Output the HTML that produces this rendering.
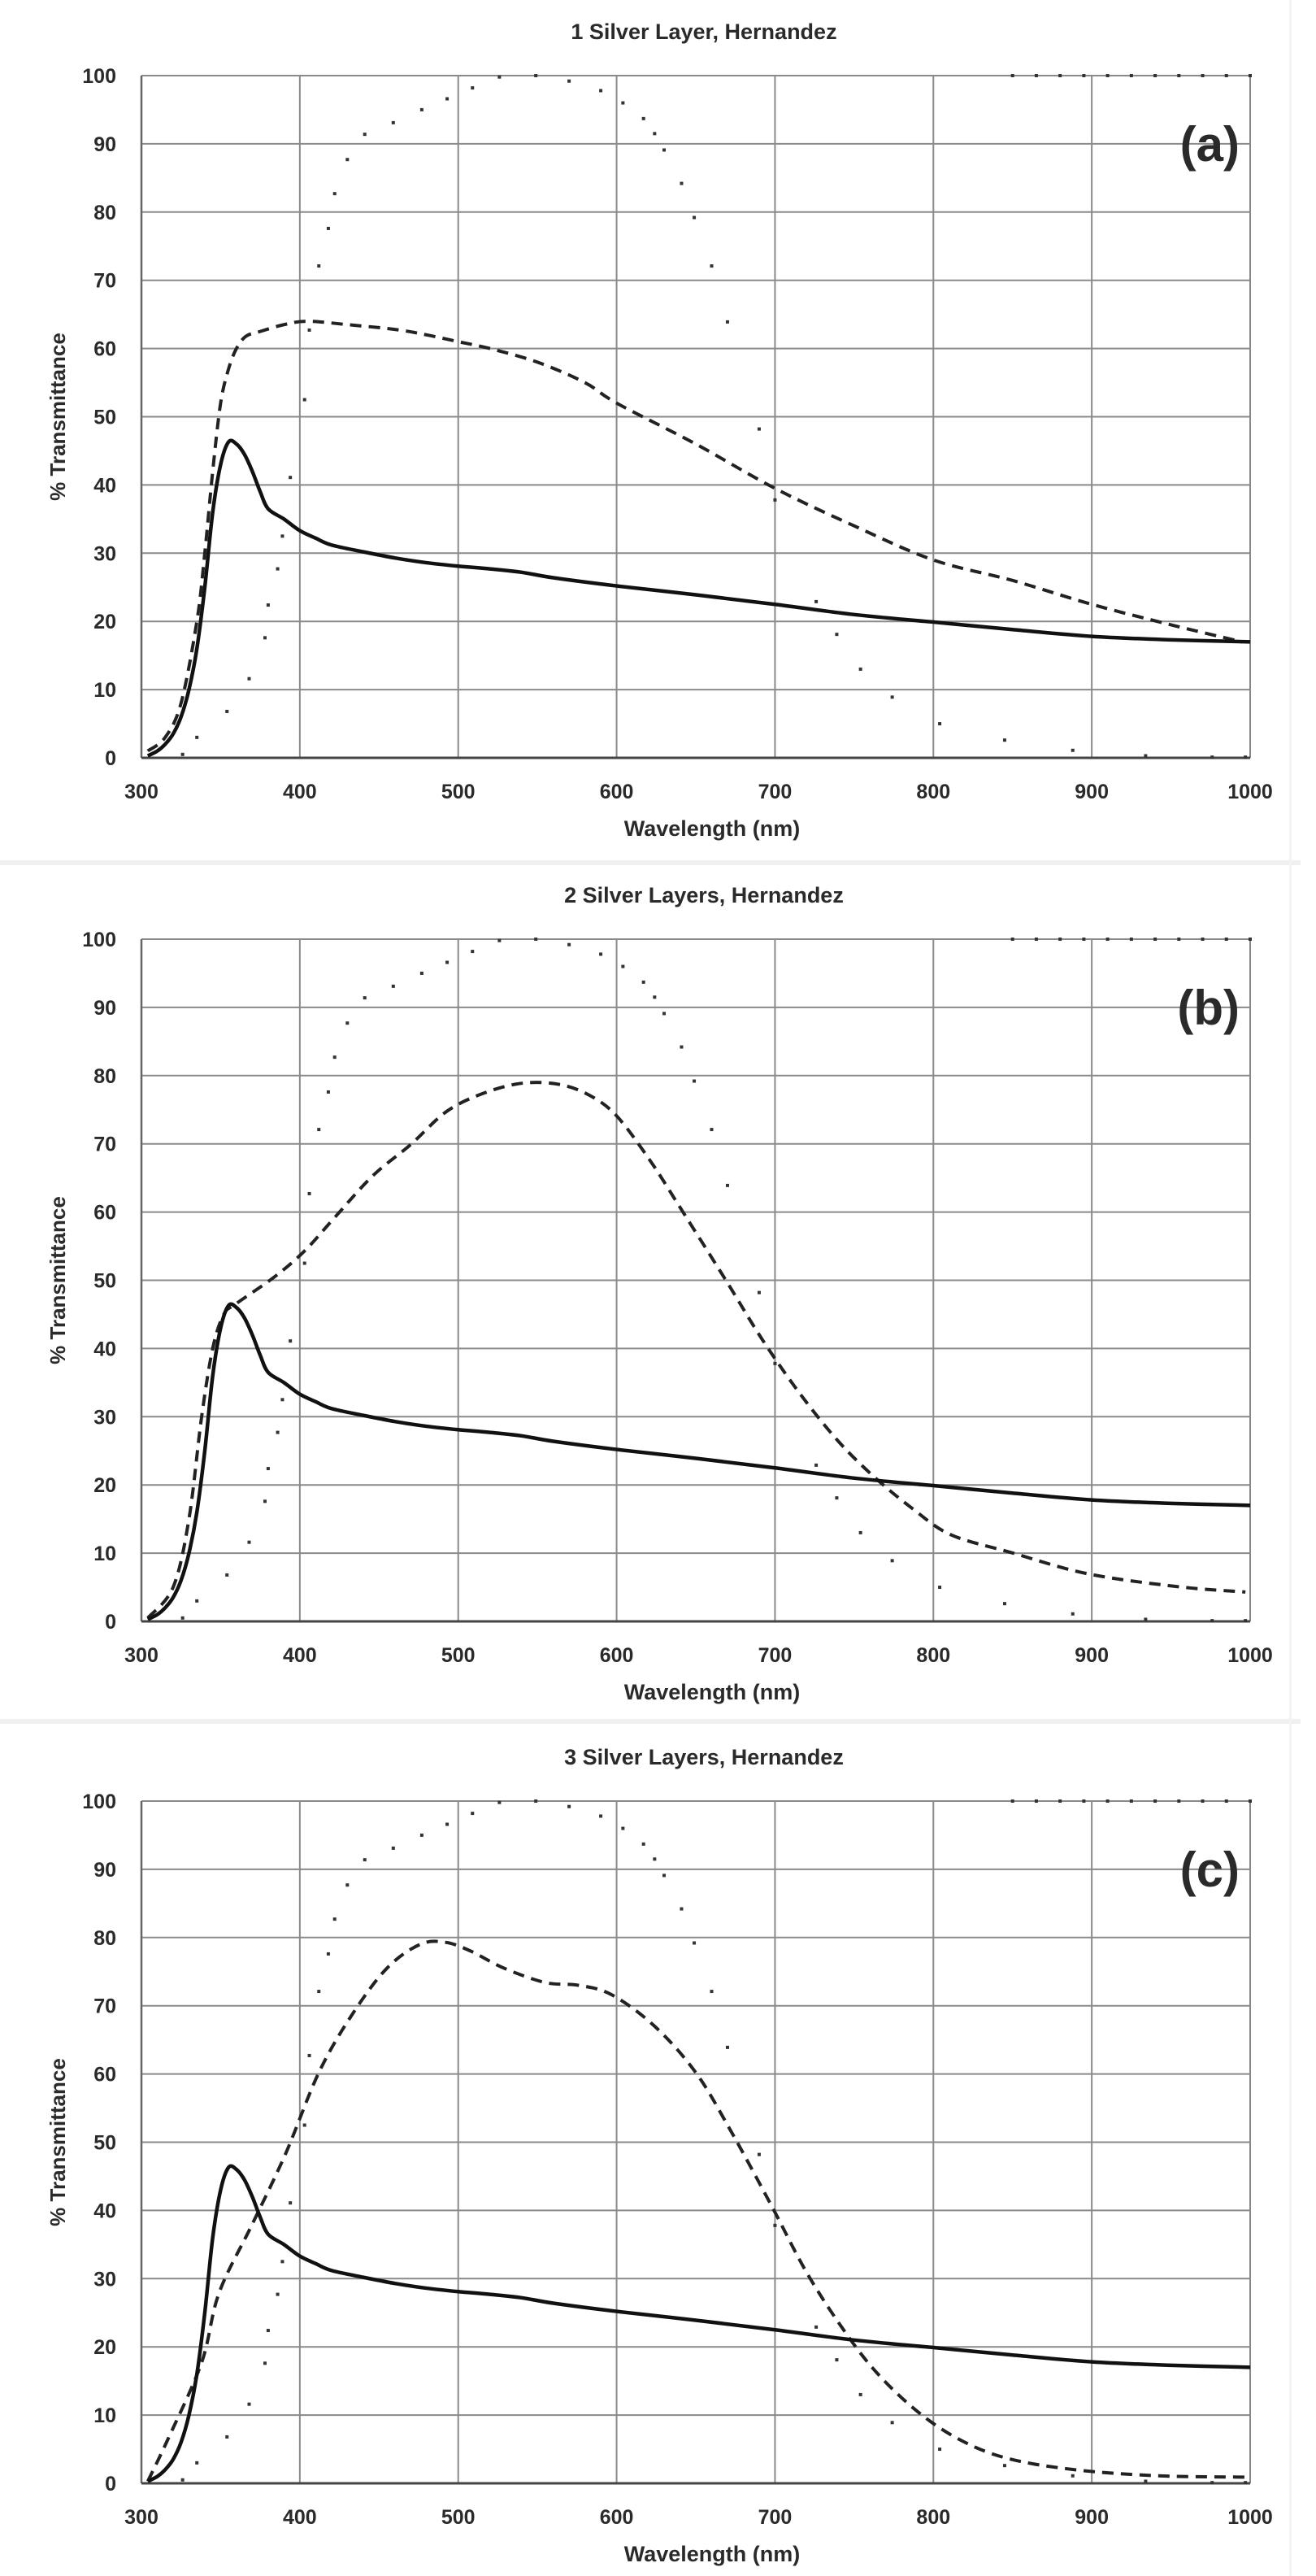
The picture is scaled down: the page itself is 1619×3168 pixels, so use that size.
<!DOCTYPE html>
<html><head><meta charset="utf-8"><style>
html,body{margin:0;padding:0;background:#fff}
svg{display:block}
text{font-family:"Liberation Sans",sans-serif;fill:#2a2a2a}
</style></head><body>
<svg id="s" width="1619" height="3168" viewBox="0 0 1619 3168" xmlns="http://www.w3.org/2000/svg">
<rect width="1619" height="3168" fill="#fff"/>
<rect x="0" y="1058" width="1600" height="6" fill="#f0f0f0"/>
<rect x="0" y="2114" width="1600" height="6" fill="#f0f0f0"/>
<rect x="1586" y="0" width="3" height="3168" fill="#f3f3f3"/>
</svg>
<script>
const NS="http://www.w3.org/2000/svg",S=document.getElementById('s');
function el(t,a,txt){const e=document.createElementNS(NS,t);for(const k in a)e.setAttribute(k,a[k]);if(txt!==undefined)e.textContent=txt;S.appendChild(e);return e;}
const X0=174,X1=1538,H=839;
const dots=[[326,0.5],[335,3],[354,6.8],[368,11.6],[378,17.6],[380,22.4],[386,27.7],[389,32.5],[394,41.1],[403,52.5],[406,62.7],[412,72.1],[418,77.6],[422,82.7],[430,87.7],[441,91.4],[459,93.1],[477,95],[493,96.6],[509,98.2],[526,99.8],[549,100],[570,99.2],[590,97.8],[604,96],[617,93.7],[624,91.5],[630,89.1],[641,84.2],[649,79.2],[660,72.1],[670,63.9],[690,48.2],[700,37.8],[726,22.9],[739,18.1],[754,13],[774,8.9],[804,5],[845,2.6],[888,1.1],[934,0.3],[976,0.1],[997,0.1],[850,100],[865,100],[880,100],[895,100],[910,100],[925,100],[940,100],[955,100],[970,100],[985,100],[1000,100]];
const solid=[[304,0.3],[310,1],[315,2],[320,3.5],[325,6],[330,10],[335,16],[340,25],[345,36],[350,43],[355,46.3],[360,46],[365,44.5],[370,42],[375,39],[380,36.5],[390,35],[400,33.3],[410,32.2],[420,31.2],[440,30.2],[460,29.3],[480,28.6],[500,28.1],[520,27.7],[540,27.2],[560,26.4],[600,25.2],[650,23.9],[700,22.5],[750,21],[800,19.9],[850,18.8],[900,17.8],[950,17.3],[1000,17]];
const dA=[[304,1],[315,3],[325,8],[335,20],[340,30],[345,42],[350,52],[355,57],[360,60],[366,61.8],[375,62.5],[390,63.5],[405,64],[430,63.5],[460,62.8],[480,62],[500,61],[520,60],[550,58],[580,55],[600,52],[650,46],[700,39.5],[750,34],[800,29],[850,26],[900,22.5],[950,19.5],[995,17]];
const dB=[[304,0.5],[320,5],[330,15],[338,30],[345,40],[352,45],[360,46.6],[384,50.5],[403,54.3],[422,59.2],[446,65.3],[470,69.9],[493,74.8],[517,77.5],[541,78.9],[564,78.7],[583,77.1],[600,74.1],[621,67.6],[640,60.7],[669,50],[692,41.3],[716,33.3],[740,26.4],[763,21.1],[787,16.5],[811,12.7],[849,10.1],[897,7],[954,5.1],[997,4.3]];
const dC=[[304,0.3],[317,6.6],[338,17.7],[349,27.9],[370,38],[391,48.3],[412,60.2],[433,68.7],[455,75.5],[476,79],[492,79.3],[508,78],[529,75.5],[555,73.4],[576,73],[597,71.6],[624,67],[650,60.2],[672,51.7],[698,40.6],[719,31.3],[740,23.6],[762,16.8],[788,10.9],[815,6.6],[846,3.7],[889,2],[942,1.1],[1000,0.9]];
function path(pts,fx,fy){const p=pts.map(q=>[fx(q[0]),fy(q[1])]);let d=`M${p[0][0]},${p[0][1]}`;
for(let i=0;i<p.length-1;i++){const a=p[Math.max(0,i-1)],b=p[i],c=p[i+1],e=p[Math.min(p.length-1,i+2)];
d+=` C${b[0]+(c[0]-a[0])/6},${b[1]+(c[1]-a[1])/6} ${c[0]-(e[0]-b[0])/6},${c[1]-(e[1]-b[1])/6} ${c[0]},${c[1]}`;}return d;}
function panel(top,title,lab,dash){
 const fx=w=>X0+(w-300)*(X1-X0)/700, fy=v=>top+H-v*H/100, bot=top+H;
 el('text',{x:(X0+X1)/2+10,y:top-45,'text-anchor':'middle','font-size':27,'font-weight':'bold'},title);
 for(let w=400;w<1000;w+=100)el('line',{x1:fx(w),x2:fx(w),y1:top,y2:bot,stroke:'#8a8a8a','stroke-width':2});
 for(let v=10;v<=100;v+=10)el('line',{x1:X0,x2:X1,y1:fy(v),y2:fy(v),stroke:'#8a8a8a','stroke-width':2});
 el('line',{x1:X0,x2:X0,y1:top,y2:bot,stroke:'#666','stroke-width':2.5});
 el('line',{x1:X1,x2:X1,y1:top,y2:bot,stroke:'#888','stroke-width':2});
 el('line',{x1:X0,x2:X1,y1:bot,y2:bot,stroke:'#444','stroke-width':3});
 for(let v=0;v<=100;v+=10)el('text',{x:143,y:fy(v)+9,'text-anchor':'end','font-size':25,'font-weight':'bold'},v);
 for(let w=300;w<=1000;w+=100)el('text',{x:fx(w),y:bot+50,'text-anchor':'middle','font-size':25,'font-weight':'bold'},w);
 el('text',{x:(X0+X1)/2+20,y:bot+96,'text-anchor':'middle','font-size':27,'font-weight':'bold'},'Wavelength (nm)');
 el('text',{x:0,y:0,transform:`translate(80 ${top+H/2}) rotate(-90)`,'text-anchor':'middle','font-size':26,'font-weight':'bold'},'% Transmittance');
 el('text',{x:1525,y:top+105,'text-anchor':'end','font-size':60,'font-weight':'bold',fill:'#111'},lab);
 for(const d of dots)el('rect',{x:fx(d[0])-2,y:fy(d[1])-2,width:4,height:4,fill:'#333'});
 el('path',{d:path(dash,fx,fy),fill:'none',stroke:'#222','stroke-width':4,'stroke-dasharray':'14 9'});
 el('path',{d:path(solid,fx,fy),fill:'none',stroke:'#111','stroke-width':4.5});
}
panel(93,'1 Silver Layer, Hernandez','(a)',dA);
panel(1155,'2 Silver Layers, Hernandez','(b)',dB);
panel(2215,'3 Silver Layers, Hernandez','(c)',dC);
</script>
</body></html>
